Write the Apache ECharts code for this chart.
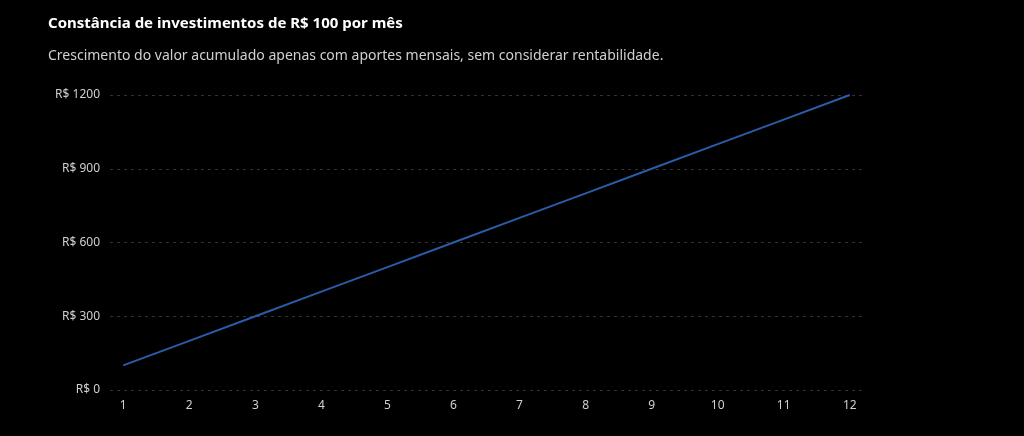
<!DOCTYPE html>
<html>
<head>
<meta charset="utf-8">
<script src="https://cdn.jsdelivr.net/npm/echarts@6/dist/echarts.min.js"></script>
<style>
  html, body { margin: 0; padding: 0; background: #000; }
  #chart { width: 1024px; height: 436px; }
</style>
</head>
<body>
<div id="chart"></div>
<script>
// meses e valor acumulado (R$ 100 por mês)
const months = [1, 2, 3, 4, 5, 6, 7, 8, 9, 10, 11, 12];
const accumulated = [100, 200, 300, 400, 500, 600, 700, 800, 900, 1000, 1100, 1200];

const chart = echarts.init(document.getElementById('chart'));

chart.setOption({
    backgroundColor: '#000',
    textStyle: { fontFamily: 'Noto Sans' },
    title: {
        text: 'Constância de investimentos de R$ 100 por mês',
        subtext: 'Crescimento do valor acumulado apenas com aportes mensais, sem considerar rentabilidade.',
        left: 43,
        top: 11,
        itemGap: 18,
        textStyle: { color: '#fff', fontSize: 15, fontWeight: 'bold' },
        subtextStyle: { color: '#d0d0d0', fontSize: 14 }
    },
    grid: { left: 110, right: 161, top: 95, bottom: 46 },
    xAxis: {
        type: 'value',
        min: 0.8,
        max: 12.2,
        interval: 0.2,
        axisLine: { show: false },
        axisTick: { show: false },
        splitLine: { show: false },
        axisLabel: {
            color: '#d0d0d0',
            fontSize: 12,
            margin: 10,
            formatter: (v) => Math.abs(v - Math.round(v)) < 1e-6 ? String(Math.round(v)) : '',
            showMinLabel: false,
            showMaxLabel: false
        }
    },
    yAxis: {
        type: 'value',
        min: 0,
        max: 1200,
        interval: 300,
        axisLine: { show: false },
        axisTick: { show: false },
        axisLabel: { color: '#d0d0d0', fontSize: 12, margin: 10, formatter: (v) => 'R$ ' + v },
        splitLine: { lineStyle: { color: '#333', type: [3, 4] } }
    },
    series: [{
        type: 'line',
        data: months.map((m, i) => [m, accumulated[i]]),
        showSymbol: false,
        lineStyle: { color: '#2a5caa', width: 2 },
        itemStyle: { color: '#2a5caa' }
    }]
});
</script>
</body>
</html>
